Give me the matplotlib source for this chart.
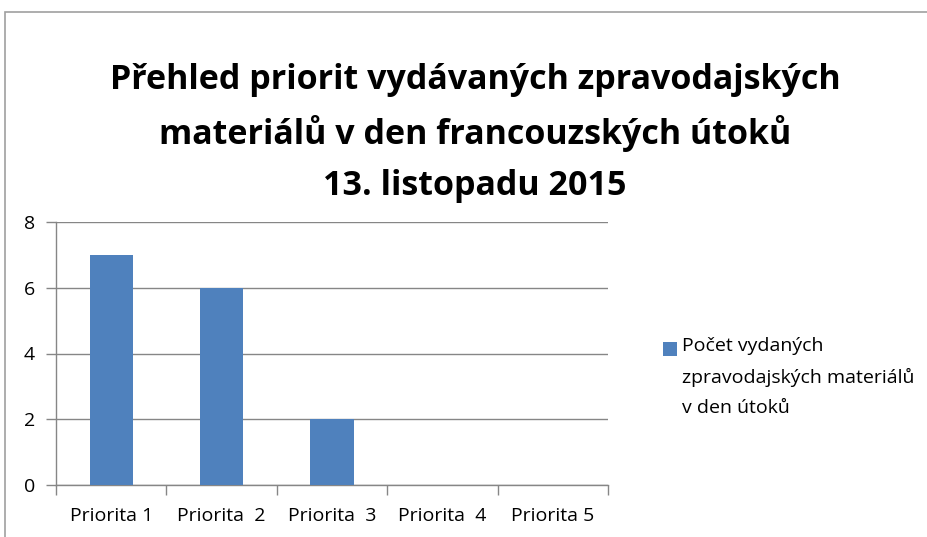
import matplotlib

matplotlib.use("Agg")
import matplotlib.pyplot as plt
from matplotlib.patches import Rectangle
import numpy as np

categories = ["Priorita 1", "Priorita  2", "Priorita  3", "Priorita  4", "Priorita 5"]
counts = [7, 6, 2, 0, 0]
y_ticks = [0, 2, 4, 6, 8]
series_label = "Počet vydaných\nzpravodajských materiálů\nv den útoků"
title = "Přehled priorit vydávaných zpravodajských\nmateriálů v den francouzských útoků\n13. listopadu 2015"

BAR = "#4f81bd"
AXIS = "#868686"
W, H = 927, 537

plt.rcParams["font.family"] = ["Open Sans", "DejaVu Sans"]

fig = plt.figure(figsize=(W / 100, H / 100), dpi=100, facecolor="white")
# chart frame (cut off on the right and bottom like the source)
fig.patches.append(Rectangle((5 / W, -0.1), 1.2, 1.1 - 12 / H, transform=fig.transFigure,
                             fill=False, edgecolor="#a0a0a0", lw=1.2))

ax = fig.add_axes([56 / W, 1 - 485 / H, (608 - 56) / W, (485 - 222) / H])
x = np.arange(len(categories))
ax.bar(x, counts, width=0.39, color=BAR, zorder=3)
ax.set_xlim(-0.5, len(categories) - 0.5)
ax.set_ylim(0, 8)
ax.set_yticks(y_ticks)
ax.yaxis.grid(True, color=AXIS, lw=1.0, zorder=0)
for s in ["top", "right"]:
    ax.spines[s].set_visible(False)
for s in ["left", "bottom"]:
    ax.spines[s].set_color(AXIS)
    ax.spines[s].set_linewidth(1.0)
ax.tick_params(axis="y", colors=AXIS, length=7, width=1.0, labelcolor="black", labelsize=14, pad=8)
ax.set_xticks(np.arange(len(categories) + 1) - 0.5, minor=False)
ax.set_xticklabels([])
ax.tick_params(axis="x", colors=AXIS, length=7, width=1.0)
ax.set_xticks(x, minor=True)
ax.set_xticklabels(categories, minor=True)
ax.tick_params(axis="x", which="minor", length=0, labelsize=14, labelcolor="black", pad=16)

fig.text(475 / W, 1 - 133 / H, title, ha="center", va="center", fontsize=24.5,
         fontweight="bold", linespacing=1.62)

fig.patches.append(Rectangle((663 / W, 1 - 356 / H), 14 / W, 14 / H, transform=fig.transFigure,
                             facecolor=BAR, edgecolor="none"))
fig.text(682 / W, 1 - 337 / H, series_label, ha="left", va="top", fontsize=14, linespacing=1.85)

fig.savefig("out.png", dpi=100, facecolor="white")
